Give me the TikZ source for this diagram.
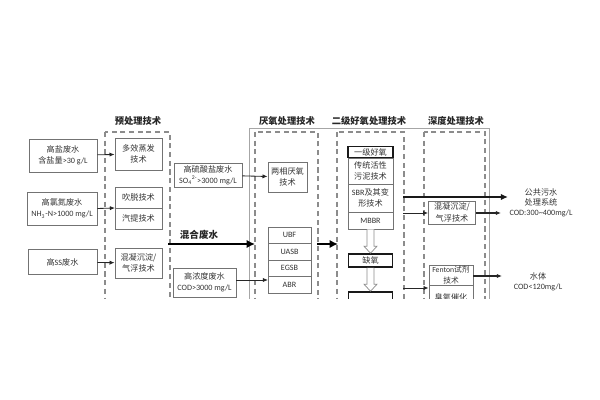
\documentclass[tikz,border=0pt]{standalone}
\usepackage{fontspec}
\setmainfont{Carlito}
\newfontfamily\cjk{Noto Sans CJK SC}
\usetikzlibrary{arrows.meta,calc}
\newcommand{\zh}[1]{{\cjk #1}}
\begin{document}
\begin{tikzpicture}[x=0.025cm,y=-0.025cm,
 txt/.style={text=black!80,font=\fontsize{5.8}{8}\selectfont,align=center,inner sep=0pt},
 bx/.style 2 args={txt,draw=black!55,line width=0.6pt,minimum width=#1*0.025cm,minimum height=#2*0.025cm},
 kbx/.style 2 args={bx={#1}{#2},draw=black!90,line width=1.1pt},
 hdr/.style={text=black!85,font=\fontsize{6.6}{8}\selectfont\bfseries,inner sep=0pt},
 dsh/.style={draw=black!45,line width=0.8pt,dash pattern=on 3.6pt off 2.6pt},
 arr/.style={draw=black!85,line width=0.6pt,-{Latex[length=3.6pt,width=3pt]}},
 tarr/.style={draw=black,line width=1.8pt,-{Latex[length=6pt,width=6pt]}},
 marr/.style={draw=black!90,line width=1.3pt,-{Latex[length=5pt,width=4.5pt]}},
 hollow/.style={draw=black!45,line width=0.5pt,fill=white},
]
\useasboundingbox (0,0) rectangle (600,400);
% headers
\node[hdr] (hPre) at (138,121) {\zh{预处理技术}};
\node[hdr] (hAn) at (287,121) {\zh{厌氧处理技术}};
\node[hdr] (hAe) at (369,121) {\zh{二级好氧处理技术}};
\node[hdr] (hDp) at (456,121) {\zh{深度处理技术}};
\begin{scope}
\clip (0,0) rectangle (600,299);
% frames
\draw[draw=black!35,line width=0.5pt] (249,128) rectangle (489,330);
\draw[dsh] (105,132) rectangle (170,330);
\draw[dsh] (255,132) rectangle (318,330);
\draw[dsh] (337,132) rectangle (404,330);
\draw[dsh] (424,132) rectangle (485,330);
% inputs
\node[bx={68}{33}] (in1) at (63,155.5) {\zh{高盐废水}\\\zh{含盐量}>30 g/L};
\node[bx={70}{33}] (in2) at (62,208.5) {\zh{高氯氮废水}\\NH\textsubscript{3}-N>1000 mg/L};
\node[bx={69}{25}] (in3) at (62.5,262) {\zh{高}SS\zh{废水}};
% pretreatment
\node[bx={47}{32}] (p1) at (138.5,154) {\zh{多效蒸发}\\\zh{技术}};
\node[bx={47}{21}] (p2) at (138.5,197.5) {\zh{吹脱技术}};
\node[bx={47}{21}] (p3) at (138.5,218.5) {\zh{汽提技术}};
\node[bx={47}{30}] (p4) at (138.5,263) {\zh{混凝沉淀/}\\\zh{气浮技术}};
\coordinate (p23) at (115,208);
\draw[arr] (in1) -- (p1);
\draw[arr] (in2.east) -- (p23);
\draw[arr] (in3) -- (p4);
% sulfate
\node[bx={68}{24}] (s1) at (208,175) {\zh{高硫酸盐废水}\\SO\textsubscript{4}\textsuperscript{2-}>3000 mg/L};
\node[bx={39}{30}] (a1) at (287.5,177) {\zh{两相厌氧}\\\zh{技术}};
\draw[arr] (s1) -- (a1);
% mixed wastewater
\coordinate (mixS) at (168,244);
\coordinate (mixE) at (255,244);
\draw[tarr] (mixS) -- (mixE);
\node[hdr,font=\fontsize{6.8}{8}\selectfont\bfseries] (mixL) at (199,235) {\zh{混合废水}};
% anaerobic stack
\node[bx={43}{16.5}] (u1) at (289.5,235.25) {UBF};
\node[bx={43}{16.5}] (u2) at (289.5,251.75) {UASB};
\node[bx={43}{16.5}] (u3) at (289.5,268.25) {EGSB};
\node[bx={43}{16.5}] (u4) at (289.5,284.75) {ABR};
\node[bx={63}{29}] (h1) at (204.5,282.5) {\zh{高浓度废水}\\COD>3000 mg/L};
\coordinate (u4in) at (268,280);
\draw[arr] (h1.east |- u4in) -- (u4in);
\coordinate (anS) at (317,244);
\coordinate (anE) at (338,244);
\draw[tarr] (anS) -- (anE);
% aerobic stack
\node[kbx={45}{11}] (m1) at (370.5,152) {\zh{一级好氧}};
\node[bx={45}{26}] (m2) at (370.5,171) {\zh{传统活性}\\\zh{污泥技术}};
\node[bx={45}{28}] (m3) at (370.5,198) {SBR\zh{及其变}\\\zh{形技术}};
\node[bx={45}{17}] (m4) at (370.5,220.5) {MBBR};
\node[kbx={44}{13}] (q1) at (370.5,260.5) {\zh{缺氧}};
\node[kbx={44}{16}] (q2) at (370.5,300) {};
\draw[hollow] ($(m4.south)+(-3.5,0)$) -- ($(q1.north)+(-3.5,-7)$) -- ($(q1.north)+(-6.5,-7)$) -- (q1.north) -- ($(q1.north)+(6.5,-7)$) -- ($(q1.north)+(3.5,-7)$) -- ($(m4.south)+(3.5,0)$);
\draw[hollow] ($(q1.south)+(-3.5,0)$) -- ($(q2.north)+(-3.5,-7)$) -- ($(q2.north)+(-6.5,-7)$) -- (q2.north) -- ($(q2.north)+(6.5,-7)$) -- ($(q2.north)+(3.5,-7)$) -- ($(q1.south)+(3.5,0)$);
% deep treatment
\node[bx={47}{23}] (d1) at (452,212.5) {\zh{混凝沉淀/}\\\zh{气浮技术}};
\node[bx={44}{20},font=\fontsize{5.5}{7.5}\selectfont] (d2) at (451,275) {Fenton\zh{试剂}\\\zh{技术}};
\node[bx={44}{25}] (d3) at (451,297.5) {\zh{臭氧催化}};
\coordinate (ae1) at (403,213);
\coordinate (ae2) at (403,288);
\coordinate (ae0) at (403,197);
\draw[arr] (ae1) -- (d1.west |- ae1);
\draw[arr] (ae2) -- (d3.west |- ae2);
% outputs
\node[txt,font=\fontsize{5.8}{7.2}\selectfont] (o1) at (541,203) {\zh{公共污水}\\\zh{处理系统}\\COD:300\textasciitilde400mg/L};
\node[txt,font=\fontsize{5.8}{7.2}\selectfont] (o2) at (538,282) {\zh{水体}\\COD<120mg/L};
\coordinate (o1a) at (508,197);
\coordinate (o1b) at (501,213);
\coordinate (o2a) at (502,276);
\draw[marr] (ae0) -- (o1a);
\draw[arr,line width=0.9pt] (d1.east |- o1b) -- (o1b);
\draw[arr,line width=0.9pt] (d2.east |- o2a) -- (o2a);
\end{scope}
\end{tikzpicture}
\end{document}
